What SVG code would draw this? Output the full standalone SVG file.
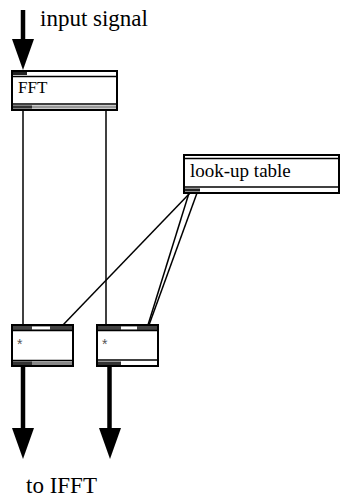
<svg xmlns="http://www.w3.org/2000/svg" width="342" height="500" viewBox="0 0 342 500">
<style>
.box{fill:#fff;stroke:#000;stroke-width:2}
.in{stroke:#000;stroke-width:1.5}
.wire{stroke:#000;stroke-width:1.5;fill:none}
.sig{stroke:#000;stroke-width:4.5;fill:none}
.lbl{font-family:"Liberation Serif","Times New Roman",serif;fill:#000}
.star{font-family:"Liberation Sans",Arial,sans-serif;fill:#555;font-size:14px}
</style>
<rect width="342" height="500" fill="#fff"/>
<g id="connectors">
  <line class="sig" x1="23" y1="10" x2="23" y2="42"/>
  <polygon points="12,39 34,39 23,70" fill="#000"/>
  <line class="wire" x1="23" y1="110" x2="23" y2="325"/>
  <line class="wire" x1="106" y1="110" x2="106" y2="324"/>
  <line class="wire" x1="190" y1="193" x2="62" y2="326"/>
  <line class="wire" x1="189" y1="193" x2="148" y2="325"/>
  <line class="wire" x1="197" y1="193" x2="149" y2="325"/>
  <line class="sig" x1="23" y1="366" x2="23" y2="431"/>
  <polygon points="12,428 34,428 23,459" fill="#000"/>
  <line class="sig" x1="109.5" y1="366" x2="109.5" y2="431"/>
  <polygon points="99,428 121,428 110,459" fill="#000"/>
</g>
<g id="input-label">
  <text class="lbl" x="40" y="26" font-size="23">input signal</text>
</g>
<g id="fft">
  <rect class="box" x="12" y="71" width="105" height="39"/>
  <rect x="13" y="72" width="14" height="3" fill="#222"/>
  <line class="in" x1="12" y1="76.5" x2="117" y2="76.5"/>
  <line class="in" x1="12" y1="104" x2="117" y2="104"/>
  <rect x="13" y="105.5" width="103" height="3" fill="#999"/>
  <rect x="13" y="105.5" width="19" height="3" fill="#333"/>
  <text class="lbl" x="18" y="93" font-size="17">FFT</text>
</g>
<g id="lookup">
  <rect class="box" x="184" y="155" width="155" height="38"/>
  <line class="in" x1="184" y1="158.5" x2="339" y2="158.5"/>
  <line class="in" x1="184" y1="187" x2="339" y2="187"/>
  <rect x="185" y="188.5" width="15" height="3" fill="#222"/>
  <text class="lbl" x="190" y="177" font-size="19">look-up table</text>
</g>
<g id="mul-left">
  <rect class="box" x="12" y="325" width="61" height="41"/>
  <rect x="13" y="326" width="59" height="4" fill="#444"/>
  <rect x="32" y="326.5" width="18" height="3" fill="#fff"/>
  <line class="in" x1="12" y1="330.5" x2="73" y2="330.5"/>
  <line class="in" x1="12" y1="360.5" x2="73" y2="360.5"/>
  <rect x="13" y="361.5" width="59" height="3.5" fill="#888"/>
  <rect x="13" y="361.5" width="19" height="3.5" fill="#333"/>
  <text class="star" x="17" y="349">*</text>
</g>
<g id="mul-right">
  <rect class="box" x="97" y="325" width="61" height="41"/>
  <rect x="98" y="326" width="59" height="4" fill="#444"/>
  <rect x="121" y="326.5" width="16" height="3" fill="#fff"/>
  <line class="in" x1="97" y1="330.5" x2="158" y2="330.5"/>
  <line class="in" x1="97" y1="360" x2="158" y2="360"/>
  <rect x="98" y="361.5" width="59" height="3.5" fill="#fff"/>
  <rect x="98" y="361.5" width="23" height="3.5" fill="#333"/>
  <text class="star" x="102" y="349">*</text>
</g>
<g id="output-label">
  <text class="lbl" x="26" y="493" font-size="23">to IFFT</text>
</g>
</svg>
